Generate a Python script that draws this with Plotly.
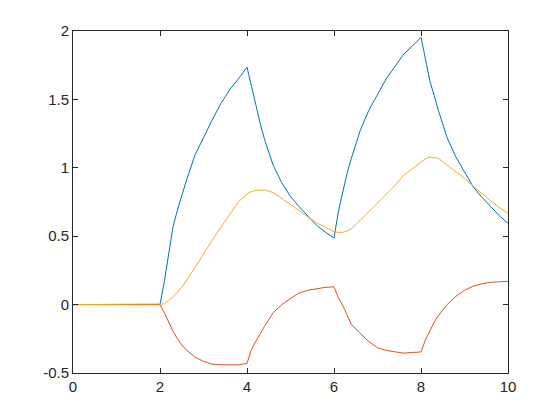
import plotly.graph_objects as go

t = [0, 2.0, 2.1, 2.2, 2.3, 2.4, 2.5, 2.6, 2.8, 3.0, 3.2, 3.4, 3.6, 3.8, 4.0, 4.1, 4.2, 4.3, 4.4, 4.6, 4.8, 5.0,
     5.2, 5.4, 5.6, 5.8, 6.0, 6.1, 6.2, 6.3, 6.4, 6.6, 6.8, 7.0, 7.2, 7.4, 7.6, 7.8, 8.0,
     8.1, 8.2, 8.3, 8.4, 8.6, 8.8, 9.0, 9.2, 9.4, 9.6, 9.8, 10.0]

y_blue = [0, 0, 0.17, 0.37, 0.57, 0.69, 0.80, 0.90, 1.09, 1.224, 1.35, 1.47, 1.57, 1.65, 1.735,
          1.60, 1.46, 1.33, 1.21, 1.02, 0.89, 0.79, 0.715, 0.645, 0.58, 0.53, 0.487,
          0.68, 0.83, 0.96, 1.07, 1.27, 1.42, 1.54, 1.65, 1.74, 1.83, 1.89, 1.954,
          1.80, 1.64, 1.53, 1.42, 1.22, 1.08, 0.97, 0.86, 0.785, 0.715, 0.65, 0.594]

y_red = [0, 0, -0.06, -0.13, -0.195, -0.25, -0.295, -0.33, -0.383, -0.415, -0.435, -0.44, -0.44, -0.44, -0.43,
         -0.33, -0.27, -0.21, -0.16, -0.06, 0.0, 0.045, 0.085, 0.105, 0.118, 0.126, 0.13,
         0.05, -0.005, -0.08, -0.145, -0.21, -0.27, -0.315, -0.335, -0.345, -0.355, -0.35, -0.346,
         -0.26, -0.19, -0.13, -0.08, 0.0, 0.06, 0.105, 0.135, 0.152, 0.163, 0.168, 0.17]

y_yellow = [0, 0, 0.005, 0.03, 0.058, 0.09, 0.128, 0.17, 0.27, 0.375, 0.47, 0.565, 0.655, 0.75, 0.81,
            0.826, 0.835, 0.838, 0.838, 0.82, 0.775, 0.73, 0.685, 0.64, 0.598, 0.565, 0.533,
            0.528, 0.528, 0.538, 0.555, 0.615, 0.68, 0.74, 0.805, 0.87, 0.945, 0.995, 1.045,
            1.065, 1.077, 1.076, 1.07, 1.02, 0.97, 0.923, 0.865, 0.81, 0.76, 0.71, 0.667]

x_ticks = [0, 2, 4, 6, 8, 10]
y_ticks = [-0.5, 0, 0.5, 1, 1.5, 2]
y_labels = ["-0.5", "0", "0.5", "1", "1.5", "2"]

fig = go.Figure()
for ys, col in [(y_blue, "#0072BD"), (y_red, "#D95319"), (y_yellow, "#EDB120")]:
    fig.add_trace(go.Scatter(x=t, y=ys, mode="lines", line=dict(color=col, width=1),
                             showlegend=False, hoverinfo="skip"))

axis_common = dict(showgrid=False, zeroline=False, showline=True, linecolor="#262626",
                   linewidth=1, mirror="ticks", ticks="inside", ticklen=5,
                   tickcolor="#262626", tickwidth=1,
                   tickfont=dict(family="Liberation Sans", size=15, color="#262626"))

fig.update_layout(
    width=560, height=420,
    margin=dict(l=65, r=60, t=23, b=55),
    paper_bgcolor="white", plot_bgcolor="white",
    xaxis=dict(range=[0, 10], tickvals=x_ticks, ticktext=[str(v) for v in x_ticks], **axis_common),
    yaxis=dict(range=[-0.5, 2], tickvals=y_ticks, ticktext=y_labels, **axis_common),
)
fig.write_html("out.html")
